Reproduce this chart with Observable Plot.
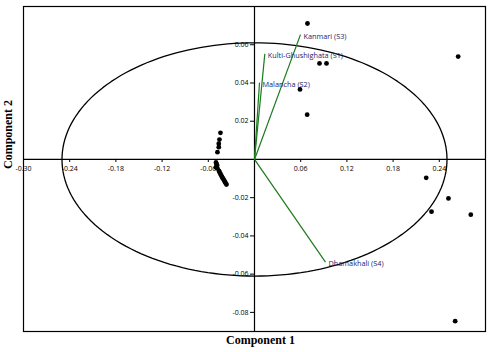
<!DOCTYPE html>
<html><head><meta charset="utf-8">
<script src="https://cdn.jsdelivr.net/npm/d3@7"></script>
<script src="https://cdn.jsdelivr.net/npm/@observablehq/plot@0.6"></script>
<style>body{margin:0;background:#fff}</style>
</head><body><div id="chart"></div>
<script>
// Scores (black points)
const pointX = [0.0688, 0.0844, 0.0935, 0.0591, 0.0684, 0.2645, 0.2230, 0.2519, 0.2299, 0.2809, 0.2606,
  -0.0442, -0.0455, -0.0464, -0.0464, -0.0481,
  -0.0500, -0.0487, -0.0500, -0.0481, -0.0492,
  -0.0461, -0.0452, -0.0442, -0.0432, -0.0422, -0.0413, -0.0403, -0.0393, -0.0383, -0.0374, -0.0364];
const pointY = [0.0711, 0.0502, 0.0502, 0.0366, 0.0234, 0.0538, -0.0096, -0.0204, -0.0273, -0.0289, -0.0846,
  0.0139, 0.0104, 0.0082, 0.0064, 0.0038,
  -0.0016, -0.0031, -0.0042, -0.0047, -0.0025,
  -0.0060, -0.0068, -0.0076, -0.0084, -0.0091, -0.0098, -0.0104, -0.0111, -0.0118, -0.0125, -0.0131];

// Loadings (green vectors)
const loadNames = ["Kanmari (S3)", "Kulti-Ghushighata (S1)", "Malancha (S2)", "Dhamakhali (S4)"];
const loadX = [0.0597, 0.0134, 0.0065, 0.0922];
const loadY = [0.0653, 0.0552, 0.0402, -0.0537];

// Axis ticks
const xTicks = [-0.30, -0.24, -0.18, -0.12, -0.06, 0.06, 0.12, 0.18, 0.24];
const xTickLabels = ["-0.30", "-0.24", "-0.18", "-0.12", "-0.06", "0.06", "0.12", "0.18", "0.24"];
const yTicks = [0.06, 0.04, 0.02, -0.02, -0.04, -0.06, -0.08];
const yTickLabels = ["0.06", "0.04", "0.02", "-0.02", "-0.04", "-0.06", "-0.08"];

// Ellipse radii
const ellipseRx = 0.25;
const ellipseRy = 0.061;

const points = pointX.map((x, i) => ({x, y: pointY[i]}));
const loadings = loadNames.map((name, i) => ({name, x: loadX[i], y: loadY[i]}));
const ellipse = d3.range(0, 361, 2).map(a => ({
  x: ellipseRx * Math.cos(a * Math.PI / 180),
  y: ellipseRy * Math.sin(a * Math.PI / 180)
}));
const xTickLen = 0.0016; // data units on y
const yTickLen = 0.0052; // data units on x

const chart = Plot.plot({
  width: 500,
  height: 352,
  marginLeft: 23,
  marginRight: 15,
  marginTop: 6,
  marginBottom: 21,
  x: {domain: [-0.30, 0.30], axis: null},
  y: {domain: [-0.09, 0.08], axis: null},
  style: {fontFamily: "'Open Sans', sans-serif", background: "#fff"},
  marks: [
    Plot.frame({stroke: "#000", strokeWidth: 1.2}),
    Plot.ruleY([0], {stroke: "#000", strokeWidth: 1.2}),
    Plot.ruleX([0], {stroke: "#000", strokeWidth: 1.2}),
    Plot.ruleX(xTicks, {x: d => d, y1: 0, y2: -xTickLen, stroke: "#000", strokeWidth: 1}),
    Plot.ruleY(yTicks, {y: d => d, x1: 0, x2: -yTickLen, stroke: "#000", strokeWidth: 1}),
    Plot.text(xTicks, {x: d => d, y: 0, text: (d, i) => xTickLabels[i], dy: 9, fontSize: 7, fill: "#000"}),
    Plot.text(yTicks, {x: 0, y: d => d, text: (d, i) => yTickLabels[i], textAnchor: "end", dx: -6, fontSize: 7, fill: "#000"}),
    Plot.line(ellipse, {x: "x", y: "y", stroke: "#000", strokeWidth: 1.3}),
    Plot.link(loadings, {x1: 0, y1: 0, x2: "x", y2: "y", stroke: "#1c7a1c", strokeWidth: 1.2}),
    Plot.text(loadings, {x: "x", y: "y", text: "name", textAnchor: "start", dx: 3, dy: 2, fontSize: 7.3, fill: "#24246e"}),
    Plot.dot(points, {x: "x", y: "y", r: 2.4, fill: "#000"}),
    Plot.text(["Component 1"], {frameAnchor: "bottom", dx: 6, dy: 12, text: d => d, fontSize: 12, fontWeight: "bold", fontFamily: "'Liberation Serif', serif", fill: "#000"}),
    Plot.text(["Component 2"], {frameAnchor: "left", dx: -15, rotate: -90, text: d => d, fontSize: 12, fontWeight: "bold", fontFamily: "'Liberation Serif', serif", fill: "#000"})
  ]
});
document.getElementById("chart").appendChild(chart);
</script>
</body></html>
